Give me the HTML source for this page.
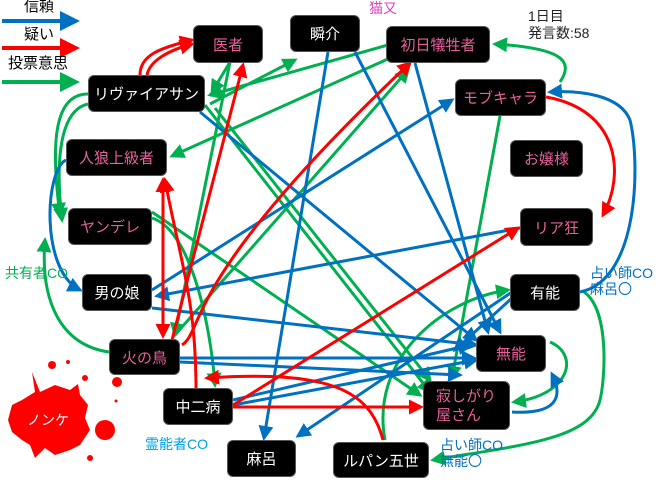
<!DOCTYPE html>
<html><head><meta charset="utf-8"><style>
body{margin:0;background:#fff;width:660px;height:480px;overflow:hidden;font-family:"Liberation Sans","Noto Sans CJK JP",sans-serif}
svg{position:absolute;left:0;top:0}
.n{position:absolute;background:#000;border-radius:6px;color:#fff;font-size:15px;display:flex;align-items:center;justify-content:center;border:1px solid #555;box-sizing:border-box}
.p{color:#e8609a}
.l{position:absolute;font-size:14px;line-height:16px}
</style></head><body>
<svg width="660" height="480" viewBox="0 0 660 480">
<defs>
<marker id="b" markerWidth="5" markerHeight="5" refX="4" refY="2.5" orient="auto" markerUnits="strokeWidth"><path d="M0,0L5,2.5L0,5z" fill="#0070c0"/></marker>
<marker id="r" markerWidth="5" markerHeight="5" refX="4" refY="2.5" orient="auto" markerUnits="strokeWidth"><path d="M0,0L5,2.5L0,5z" fill="#ff0000"/></marker>
<marker id="g" markerWidth="5" markerHeight="5" refX="4" refY="2.5" orient="auto" markerUnits="strokeWidth"><path d="M0,0L5,2.5L0,5z" fill="#00b050"/></marker>
</defs>
<g fill="none" stroke-width="3">
<path d="M2,21H76" stroke="#0070c0" stroke-width="4" marker-end="url(#b)"/>
<path d="M2,48H76" stroke="#f00" stroke-width="4" marker-end="url(#r)"/>
<path d="M2,82H76" stroke="#00b050" stroke-width="4" marker-end="url(#g)"/>
<g stroke="#00b050" marker-end="url(#g)">
<path d="M88,94C55,94 50,140 60,215"/>
<path d="M88,104C60,110 55,160 62,220"/>
<path d="M109,352C60,345 40,300 45,240"/>
<path d="M230,62L212,92"/>
<path d="M388,45L210,95"/>
<path d="M210,104L295,60"/>
<path d="M390,58L172,156"/>
<path d="M230,62L175,335"/>
<path d="M152,218C190,230 210,320 215,385"/>
<path d="M175,335L408,70"/>
<path d="M560,82C575,60 560,48 495,44"/>
<path d="M205,105L430,392"/>
<path d="M215,108L430,380"/>
<path d="M152,212L420,395"/>
<path d="M500,116L452,378"/>
<path d="M385,440C370,360 440,300 508,290"/>
<path d="M584,292C610,310 605,380 600,400C590,440 520,445 433,460"/>
<path d="M550,342C580,355 570,395 514,402"/>
</g>
<g stroke="#0070c0" marker-end="url(#b)">
<path d="M328,52L264,438"/>
<path d="M415,63L488,332"/>
<path d="M355,52L500,332"/>
<path d="M152,290L452,100"/>
<path d="M520,228L157,296"/>
<path d="M152,308L476,345"/>
<path d="M180,358L474,358"/>
<path d="M180,362L460,375"/>
<path d="M233,405L476,360"/>
<path d="M233,400L470,345"/>
<path d="M512,292L298,436"/>
<path d="M512,298L455,350"/>
<path d="M200,112L476,340"/>
<path d="M66,160C45,170 40,270 80,290"/>
<path d="M580,292C640,280 640,160 630,120C620,95 580,90 550,92"/>
<path d="M512,412C565,415 560,390 552,374"/>
</g>
<g stroke="#f00" marker-end="url(#r)">
<path d="M140,75C140,55 160,48 192,40"/>
<path d="M147,75C150,60 170,50 192,44"/>
<path d="M163,240L163,180"/>
<path d="M163,240L163,336"/>
<path d="M196,388C196,300 180,260 165,180"/>
<path d="M172,340L243,65"/>
<path d="M182,345C205,330 180,280 410,63"/>
<path d="M233,405L518,228"/>
<path d="M233,407L421,407"/>
<path d="M383,440C370,390 330,370 207,378"/>
<path d="M546,97C620,110 625,175 603,215"/>
</g>
</g>
<g fill="#f00">
<path d="M35,392L32,372L40,392L55,385L70,390L78,384L80,395L88,405L85,418L90,430L80,445L70,450L55,455L45,448L35,458L30,445L22,440L12,432L8,420L12,405L22,400Z"/>
<circle cx="105" cy="430" r="10"/><circle cx="52" cy="365" r="4"/><circle cx="68" cy="362" r="2"/><circle cx="85" cy="378" r="3"/><circle cx="117" cy="382" r="5"/><circle cx="116" cy="401" r="1.5"/><circle cx="90" cy="458" r="3"/>
</g>
<text x="48" y="425" fill="#fff" font-size="14" text-anchor="middle" font-family="Liberation Sans,Noto Sans CJK JP,sans-serif">ノンケ</text>
</svg>
<div class="l" style="left:24px;top:-1px;font-size:15px">信頼</div>
<div class="l" style="left:24px;top:27px;font-size:15px">疑い</div>
<div class="l" style="left:8px;top:56px;font-size:15px">投票意思</div>
<div class="n p" style="left:193px;top:25px;width:70px;height:38px">医者</div>
<div class="n" style="left:290px;top:15px;width:70px;height:37px">瞬介</div>
<div class="n p" style="left:386px;top:26px;width:104px;height:37px">初日犠牲者</div>
<div class="n p" style="left:455px;top:79px;width:91px;height:37px">モブキャラ</div>
<div class="n p" style="left:510px;top:140px;width:73px;height:37px">お嬢様</div>
<div class="n p" style="left:520px;top:208px;width:73px;height:38px">リア狂</div>
<div class="n" style="left:88px;top:75px;width:117px;height:37px">リヴァイアサン</div>
<div class="n p" style="left:66px;top:139px;width:101px;height:37px">人狼上級者</div>
<div class="n p" style="left:68px;top:208px;width:84px;height:37px">ヤンデレ</div>
<div class="n" style="left:82px;top:274px;width:70px;height:37px">男の娘</div>
<div class="n" style="left:510px;top:274px;width:70px;height:37px">有能</div>
<div class="n p" style="left:109px;top:339px;width:71px;height:36px">火の鳥</div>
<div class="n p" style="left:476px;top:335px;width:70px;height:37px">無能</div>
<div class="n" style="left:163px;top:388px;width:70px;height:37px">中二病</div>
<div class="n p" style="left:423px;top:381px;width:87px;height:49px;line-height:19px;justify-content:flex-start;padding-left:12px">寂しがり<br>屋さん</div>
<div class="n" style="left:227px;top:440px;width:69px;height:37px">麻呂</div>
<div class="n" style="left:333px;top:442px;width:96px;height:36px">ルパン五世</div>
<div class="l" style="left:369px;top:0px;color:#e040c0">猫又</div>
<div class="l" style="left:528px;top:8px;color:#222;line-height:17px">1日目<br>発言数:58</div>
<div class="l" style="left:5px;top:265px;color:#00b050">共有者CO</div>
<div class="l" style="left:590px;top:265px;color:#0070c0">占い師CO<br>麻呂〇</div>
<div class="l" style="left:145px;top:436px;color:#00a0e0">霊能者CO</div>
<div class="l" style="left:440px;top:437px;color:#0070c0">占い師CO<br>無能〇</div>
</body></html>
